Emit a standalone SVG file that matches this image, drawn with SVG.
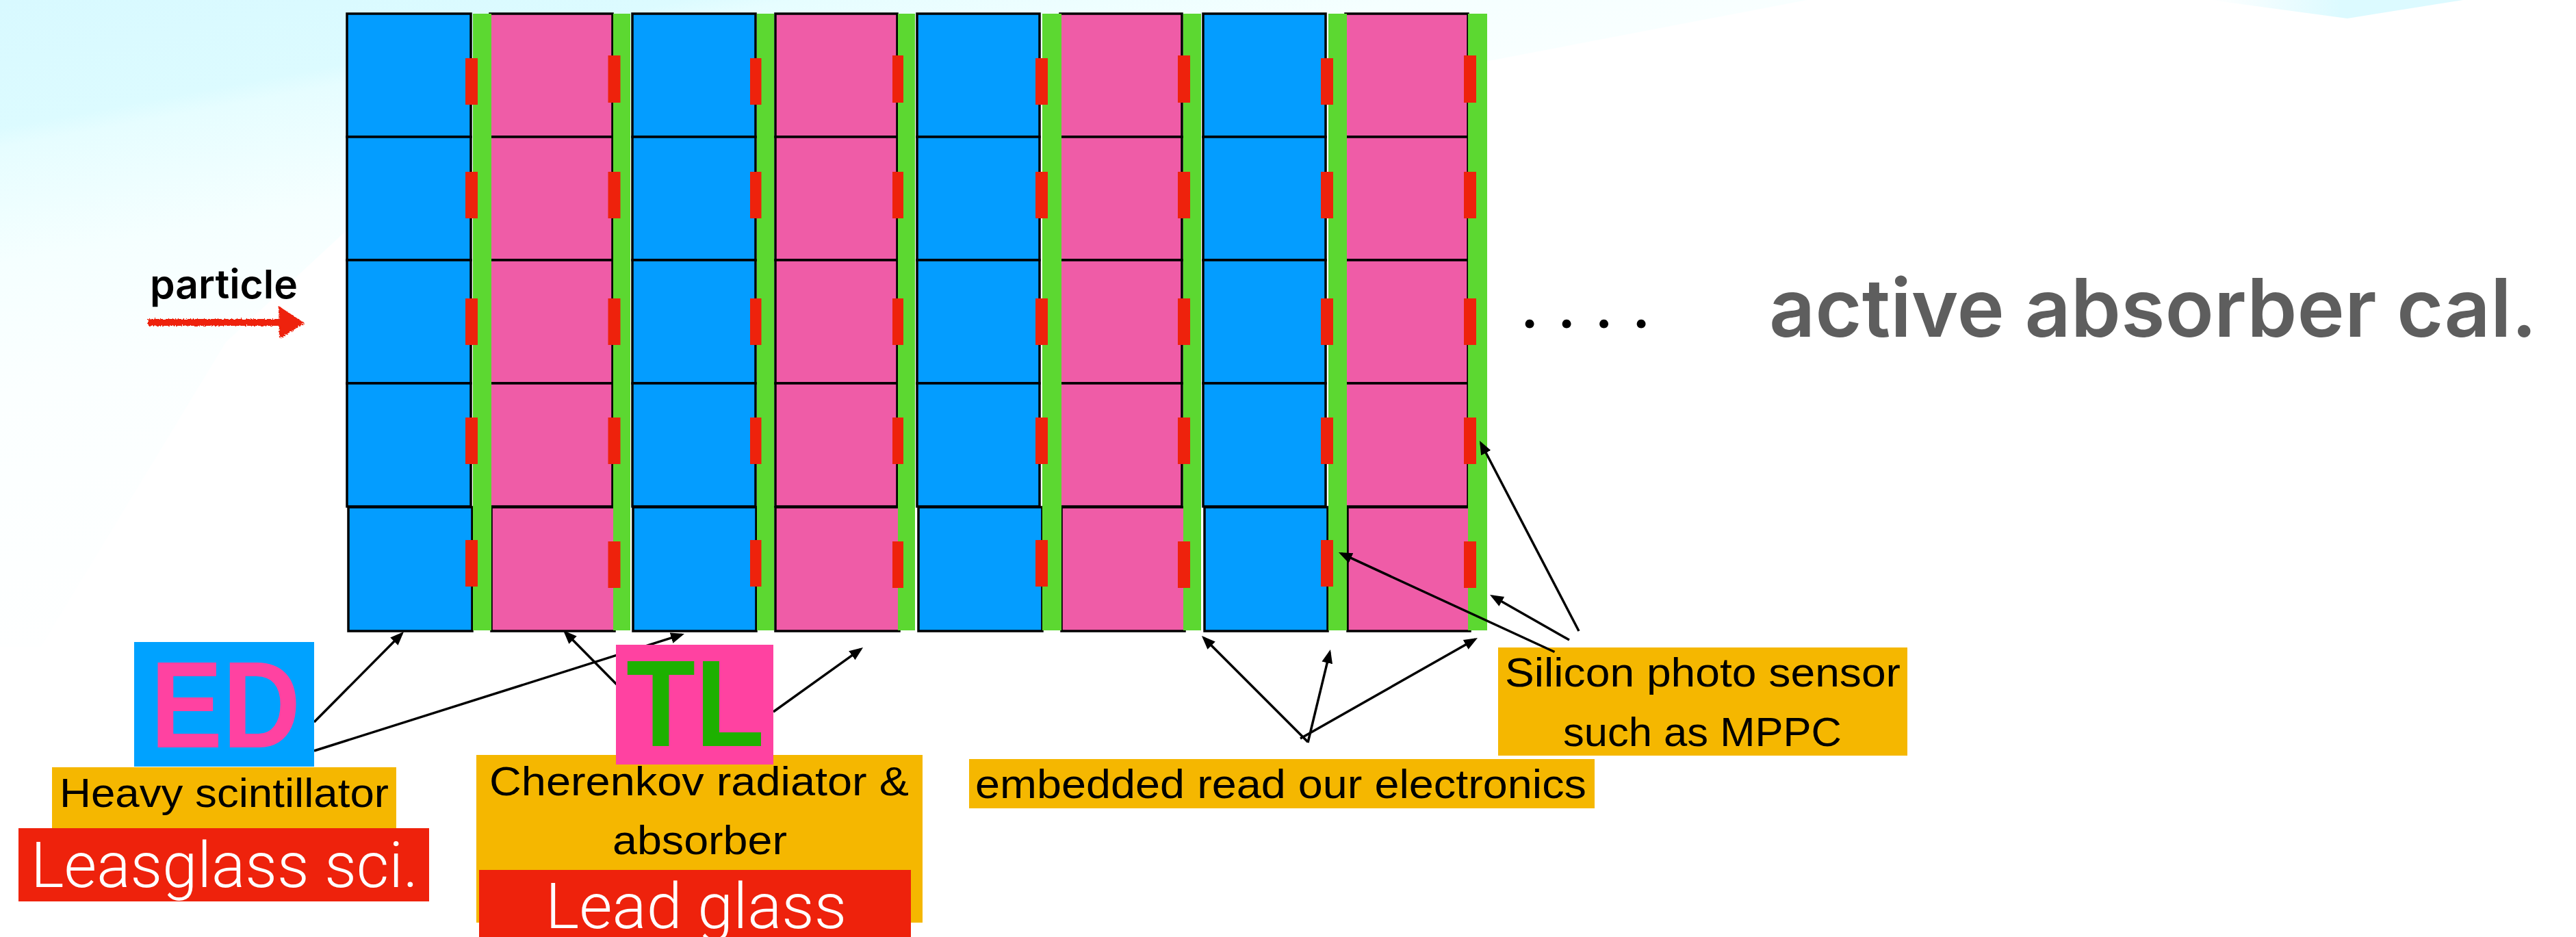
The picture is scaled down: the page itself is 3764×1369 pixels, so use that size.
<svg xmlns="http://www.w3.org/2000/svg" width="3764" height="1369" viewBox="0 0 3764 1369">
<style>
.b{fill:#049dff;stroke:#000;stroke-width:3.5}
.p{fill:#ef5ca7;stroke:#000;stroke-width:3.5}
.g{fill:#5cd831}
.r{fill:#ee220c}
.o{fill:#f5b700}
.t{font-family:"Liberation Sans",Arial,sans-serif;fill:#000;font-size:60px}
.w{font-family:Roboto,"Liberation Sans",sans-serif;font-weight:300;fill:#fff;font-size:92px}
.big{font-family:"Liberation Sans",Arial,sans-serif;font-size:180px;font-weight:700}
.c{fill:none;stroke:#000;stroke-width:3.5;marker-end:url(#ah)}
</style>
<defs>
<linearGradient id="bg" gradientUnits="userSpaceOnUse" x1="0" y1="0" x2="173" y2="928">
<stop offset="0" stop-color="#d8f9ff"/><stop offset=".195" stop-color="#dcfbff"/><stop offset=".225" stop-color="#e6fdff"/><stop offset=".4" stop-color="#f5ffff"/><stop offset=".6" stop-color="#fbffff"/><stop offset="1" stop-color="#feffff"/>
</linearGradient>
<linearGradient id="tr" gradientUnits="userSpaceOnUse" x1="3230" y1="0" x2="3420" y2="0">
<stop offset="0" stop-color="#fff"/><stop offset="1" stop-color="#dcfaff"/>
</linearGradient>
<marker id="ah" markerUnits="userSpaceOnUse" markerWidth="22" markerHeight="18" refX="16" refY="8" orient="auto"><path d="M0 0L20 8L0 16Z" fill="#000"/></marker>
<filter id="chalk" x="-5%" y="-30%" width="110%" height="160%"><feTurbulence type="fractalNoise" baseFrequency=".5" numOctaves="2" seed="4"/><feDisplacementMap in="SourceGraphic" scale="6"/></filter>
</defs>
<rect width="3764" height="1369" fill="#fff"/>
<g id="background">
<path d="M0 0H2640L2170 90L600 250L330 500L60 945H0Z" fill="url(#bg)"/>
<path d="M3230 0L3430 27L3473 20L3599 0Z" fill="url(#tr)"/>
</g>
<g id="stack">
<g id="col-1">
<rect class="b" x="507" y="20" width="181" height="180"/><rect class="b" x="507" y="200" width="181" height="180"/><rect class="b" x="507" y="380" width="181" height="180"/><rect class="b" x="507" y="560" width="181" height="180"/><rect class="b" x="509" y="741" width="181" height="181"/>
</g>
<g id="col-2">
<rect class="p" x="716" y="20" width="179" height="180"/><rect class="p" x="716" y="200" width="179" height="180"/><rect class="p" x="716" y="380" width="179" height="180"/><rect class="p" x="716" y="560" width="179" height="180"/><rect class="p" x="718" y="741" width="180" height="181"/>
</g>
<g id="col-3">
<rect class="b" x="924" y="20" width="180" height="180"/><rect class="b" x="924" y="200" width="180" height="180"/><rect class="b" x="924" y="380" width="180" height="180"/><rect class="b" x="924" y="560" width="180" height="180"/><rect class="b" x="925" y="741" width="180" height="181"/>
</g>
<g id="col-4">
<rect class="p" x="1133" y="20" width="178" height="180"/><rect class="p" x="1133" y="200" width="178" height="180"/><rect class="p" x="1133" y="380" width="178" height="180"/><rect class="p" x="1133" y="560" width="178" height="180"/><rect class="p" x="1133" y="741" width="181" height="181"/>
</g>
<g id="col-5">
<rect class="b" x="1340" y="20" width="179" height="180"/><rect class="b" x="1340" y="200" width="179" height="180"/><rect class="b" x="1340" y="380" width="179" height="180"/><rect class="b" x="1340" y="560" width="179" height="180"/><rect class="b" x="1342" y="741" width="181" height="181"/>
</g>
<g id="col-6">
<rect class="p" x="1549" y="20" width="178" height="180"/><rect class="p" x="1549" y="200" width="178" height="180"/><rect class="p" x="1549" y="380" width="178" height="180"/><rect class="p" x="1549" y="560" width="178" height="180"/><rect class="p" x="1551" y="741" width="180" height="181"/>
</g>
<g id="col-7">
<rect class="b" x="1758" y="20" width="179" height="180"/><rect class="b" x="1758" y="200" width="179" height="180"/><rect class="b" x="1758" y="380" width="179" height="180"/><rect class="b" x="1758" y="560" width="179" height="180"/><rect class="b" x="1760" y="741" width="180" height="181"/>
</g>
<g id="col-8">
<rect class="p" x="1966" y="20" width="179" height="180"/><rect class="p" x="1966" y="200" width="179" height="180"/><rect class="p" x="1966" y="380" width="179" height="180"/><rect class="p" x="1966" y="560" width="179" height="180"/><rect class="p" x="1969" y="741" width="179" height="181"/>
</g>
<g id="electronics">
<rect class="g" x="691" y="20" width="27" height="901"/><rect class="g" x="896" y="20" width="25" height="901"/><rect class="g" x="1106" y="20" width="25" height="901"/><rect class="g" x="1312" y="20" width="25" height="901"/><rect class="g" x="1523" y="20" width="28" height="901"/><rect class="g" x="1729" y="20" width="26" height="901"/><rect class="g" x="1941" y="20" width="27" height="901"/><rect class="g" x="2145" y="20" width="28" height="901"/>
</g>
<g id="sensors">
<rect class="r" x="680" y="85" width="18" height="68"/><rect class="r" x="680" y="251" width="18" height="68"/><rect class="r" x="680" y="436" width="18" height="68"/><rect class="r" x="680" y="610" width="18" height="68"/><rect class="r" x="680" y="789" width="18" height="68"/>
<rect class="r" x="888.5" y="81" width="18" height="69"/><rect class="r" x="888.5" y="251" width="18" height="68"/><rect class="r" x="888.5" y="436" width="18" height="68"/><rect class="r" x="888.5" y="610" width="18" height="68"/><rect class="r" x="888.5" y="791" width="18" height="68"/>
<rect class="r" x="1096" y="85" width="16.500" height="68"/><rect class="r" x="1096" y="251" width="16.500" height="68"/><rect class="r" x="1096" y="436" width="16.500" height="68"/><rect class="r" x="1096" y="610" width="16.500" height="68"/><rect class="r" x="1096" y="789" width="16.500" height="68"/>
<rect class="r" x="1304" y="81" width="16" height="69"/><rect class="r" x="1304" y="251" width="16" height="68"/><rect class="r" x="1304" y="436" width="16" height="68"/><rect class="r" x="1304" y="610" width="16" height="68"/><rect class="r" x="1304" y="791" width="16" height="68"/>
<rect class="r" x="1513" y="85" width="18" height="68"/><rect class="r" x="1513" y="251" width="18" height="68"/><rect class="r" x="1513" y="436" width="18" height="68"/><rect class="r" x="1513" y="610" width="18" height="68"/><rect class="r" x="1513" y="789" width="18" height="68"/>
<rect class="r" x="1721" y="81" width="18" height="69"/><rect class="r" x="1721" y="251" width="18" height="68"/><rect class="r" x="1721" y="436" width="18" height="68"/><rect class="r" x="1721" y="610" width="18" height="68"/><rect class="r" x="1721" y="791" width="18" height="68"/>
<rect class="r" x="1930" y="85" width="18" height="68"/><rect class="r" x="1930" y="251" width="18" height="68"/><rect class="r" x="1930" y="436" width="18" height="68"/><rect class="r" x="1930" y="610" width="18" height="68"/><rect class="r" x="1930" y="789" width="18" height="68"/>
<rect class="r" x="2139" y="81" width="18" height="69"/><rect class="r" x="2139" y="251" width="18" height="68"/><rect class="r" x="2139" y="436" width="18" height="68"/><rect class="r" x="2139" y="610" width="18" height="68"/><rect class="r" x="2139" y="791" width="18" height="68"/>
</g>
</g>
<g id="particle">
<text x="219" y="436" font-family="Inter,'Liberation Sans',sans-serif" font-weight="600" font-size="58" textLength="216" lengthAdjust="spacingAndGlyphs" fill="#000">particle</text>
<g filter="url(#chalk)"><path d="M216 471H410" stroke="#ee220c" stroke-width="10" fill="none"/><path d="M407 447L445 472L408 495Z" fill="#ee220c"/></g>
</g>
<g id="dots">
<text x="2225 2279 2333.500 2388" y="479" font-family="Lato,'Noto Sans',sans-serif" font-size="85" font-weight="700" fill="#000">....</text>
</g>
<g id="title">
<text x="2585" y="492" font-family="Inter,'Liberation Sans',sans-serif" font-weight="600" font-size="118" textLength="1122" lengthAdjust="spacingAndGlyphs" fill="#5e5e5e">active absorber cal.</text>
</g>
<g id="label-silicon">
<rect class="o" x="2189" y="946" width="598" height="158"/>
<text class="t" x="2199" y="1003" textLength="578" lengthAdjust="spacingAndGlyphs">Silicon photo sensor</text>
<text class="t" x="2284" y="1090" textLength="407" lengthAdjust="spacingAndGlyphs">such as MPPC</text>
</g>
<g id="label-embedded">
<rect class="o" x="1416" y="1109" width="914" height="72"/>
<text class="t" x="1425" y="1166" textLength="893" lengthAdjust="spacingAndGlyphs">embedded read our electronics</text>
</g>
<g id="connectors">
<path class="c" d="M459 1055L587.200 925.800"/>
<path class="c" d="M459 1097L996.200 927.200"/>
<path class="c" d="M905 1004L825.800 923.800"/>
<path class="c" d="M1130 1040L1257.800 948.300"/>
<path class="c" d="M1911 1084L1758.800 931.800"/>
<path class="c" d="M1911 1085L1943 952.900"/>
<path class="c" d="M1900 1079L2155.500 934"/>
<path class="c" d="M2271.500 952.500L1959.600 808.700"/>
<path class="c" d="M2293 935L2180.500 871"/>
<path class="c" d="M2307 922L2163.900 647.500"/>
</g>
<g id="label-ED">
<rect x="196" y="938" width="263" height="182" fill="#00a2ff"/>
<text class="big" x="220" y="1092" textLength="219" lengthAdjust="spacingAndGlyphs" fill="#ff42a1">ED</text>
</g>
<g id="label-heavy">
<rect class="o" x="76" y="1121" width="503" height="89"/>
<text class="t" x="87" y="1179" textLength="481" lengthAdjust="spacingAndGlyphs">Heavy scintillator</text>
</g>
<g id="label-leadglass-sci">
<rect class="r" x="27" y="1210" width="600" height="107"/>
<text class="w" x="45" y="1296" textLength="566" lengthAdjust="spacingAndGlyphs">Leasglass sci.</text>
</g>
<g id="label-cherenkov">
<rect class="o" x="696" y="1103" width="652" height="245"/>
<text class="t" x="715" y="1162" textLength="613" lengthAdjust="spacingAndGlyphs">Cherenkov radiator &amp;</text>
<text class="t" x="895" y="1248" textLength="255" lengthAdjust="spacingAndGlyphs">absorber</text>
</g>
<g id="label-TL">
<rect x="900" y="942" width="230" height="175" fill="#ff42a1"/>
<text class="big" x="915" y="1090" textLength="202" lengthAdjust="spacingAndGlyphs" fill="#1db100">TL</text>
</g>
<g id="label-leadglass">
<rect class="r" x="700" y="1271" width="631" height="98"/>
<text class="w" x="797" y="1356" textLength="440" lengthAdjust="spacingAndGlyphs">Lead glass</text>
</g>
</svg>
